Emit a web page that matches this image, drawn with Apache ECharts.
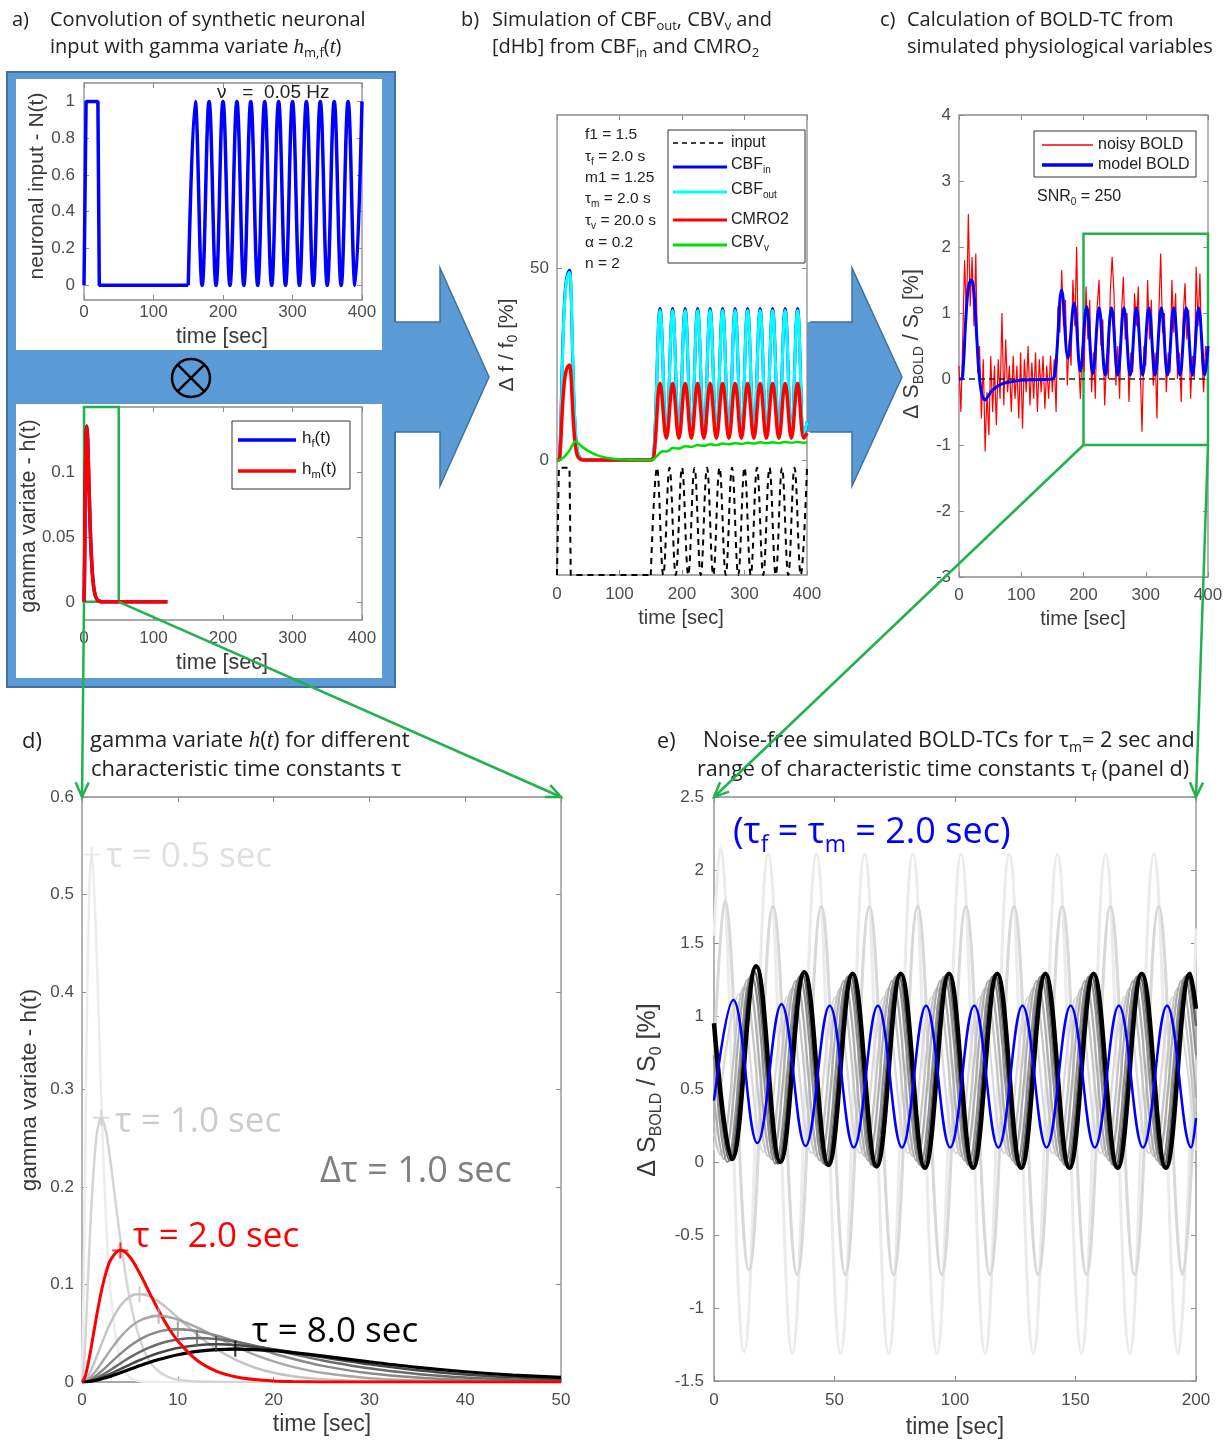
<!DOCTYPE html>
<html lang="en">
<head>
<meta charset="UTF-8">
<title>BOLD simulation figure</title>
<script src="https://cdn.jsdelivr.net/npm/echarts@6.0.0/dist/echarts.min.js"></script>
<style>
  html, body { margin: 0; padding: 0; background: #fff; }
  #main { width: 1231px; height: 1442px; }
</style>
</head>
<body>
<div id="main"></div>
<script>
// ---------- data ----------

// panel a (top): neuronal input N(t)
var nBoxT = [0, 2, 3, 20, 22, 150];
var nBoxV = [0, 0, 1, 1, 0, 0];
var nOscT = [150, 160, 170, 180, 190, 200, 210, 220, 230, 240, 250, 260, 270, 280, 290, 300, 310, 320, 330, 340, 350, 360, 370, 380, 390, 400];
var nOscV = [0, 1, 0, 1, 0, 1, 0, 1, 0, 1, 0, 1, 0, 1, 0, 1, 0, 1, 0, 1, 0, 1, 0, 1, 0, 1];

// panel a (bottom) + panel d: gamma variates h(t) for tau = 0.5 .. 8 s
var gammaT = [0, 0.25, 0.5, 0.75, 1, 1.5, 2, 2.5, 3, 4, 5, 6, 7, 8, 9, 10, 12, 14, 16, 18, 20, 22, 25, 30, 35, 40, 45, 50];
var gTau05 = [0, 0.152, 0.368, 0.502, 0.541, 0.448, 0.293, 0.168, 0.089, 0.021, 0.0045, 0.0009, 0.0002, 0, 0, 0, 0, 0, 0, 0, 0, 0, 0, 0, 0, 0, 0, 0];
var gTau1 = [0, 0.024, 0.076, 0.133, 0.184, 0.251, 0.271, 0.257, 0.224, 0.147, 0.084, 0.045, 0.022, 0.011, 0.005, 0.0023, 0.0004, 0.0001, 0, 0, 0, 0, 0, 0, 0, 0, 0, 0];
var gTau2 = [0, 0.0034, 0.0122, 0.0242, 0.0379, 0.0664, 0.092, 0.1119, 0.1255, 0.1353, 0.1282, 0.112, 0.0925, 0.0733, 0.0562, 0.0421, 0.0223, 0.0112, 0.0054, 0.0025, 0.0011, 0.0005, 0.0001, 0, 0, 0, 0, 0];
var gTau3 = [0, 0.0011, 0.0039, 0.0081, 0.0133, 0.0253, 0.038, 0.0503, 0.0613, 0.0781, 0.0875, 0.0902, 0.088, 0.0824, 0.0747, 0.0661, 0.0488, 0.0341, 0.0229, 0.0149, 0.0094, 0.0059, 0.0028, 0.0008, 0.0002, 0, 0, 0];
var gTau4 = [0, 0.0005, 0.0017, 0.0036, 0.0061, 0.0121, 0.019, 0.0261, 0.0332, 0.046, 0.056, 0.0628, 0.0665, 0.0677, 0.0667, 0.0641, 0.056, 0.0463, 0.0366, 0.0281, 0.0211, 0.0155, 0.0094, 0.0039, 0.0015, 0.0006, 0.0002, 0.0001];
var gTau5 = [0, 0.0003, 0.0009, 0.0019, 0.0033, 0.0067, 0.0107, 0.0152, 0.0198, 0.0288, 0.0368, 0.0434, 0.0483, 0.0517, 0.0536, 0.0541, 0.0522, 0.0477, 0.0418, 0.0354, 0.0293, 0.0238, 0.0168, 0.0089, 0.0045, 0.0021, 0.001, 0.0005];
var gTau6 = [0, 0.0001, 0.0005, 0.0011, 0.002, 0.0041, 0.0066, 0.0095, 0.0126, 0.019, 0.0252, 0.0307, 0.0353, 0.039, 0.0418, 0.0437, 0.0451, 0.044, 0.0412, 0.0373, 0.033, 0.0286, 0.0224, 0.014, 0.0083, 0.0047, 0.0026, 0.0014];
var gTau7 = [0, 0.0001, 0.0003, 0.0007, 0.0013, 0.0026, 0.0044, 0.0064, 0.0085, 0.0132, 0.0178, 0.0223, 0.0263, 0.0298, 0.0326, 0.0349, 0.0378, 0.0387, 0.038, 0.0361, 0.0335, 0.0305, 0.0256, 0.0181, 0.012, 0.0077, 0.0048, 0.0029];
var gTau8 = [0, 0.0001, 0.0002, 0.0005, 0.0009, 0.0018, 0.003, 0.0045, 0.006, 0.0095, 0.0131, 0.0166, 0.02, 0.023, 0.0257, 0.028, 0.0314, 0.0333, 0.0338, 0.0333, 0.0321, 0.0302, 0.0268, 0.0207, 0.015, 0.0105, 0.0071, 0.0047];
var peakT = [1, 2, 4, 6, 8, 10, 12, 14, 16];
var peakH = [0.541, 0.271, 0.135, 0.090, 0.068, 0.054, 0.045, 0.039, 0.034];

// panel b: simulated physiological variables [%]
var inputBoxB = [[0, -30], [2, -30], [3, -2], [20, -2], [22, -30], [150, -30]];
var inputOscV = [-30, -2, -30, -2, -30, -2, -30, -2, -30, -2, -30, -2, -30, -2, -30, -2, -30, -2, -30, -2, -30, -2, -30, -2, -30, -2];
var cbfInB = [[0, 0], [3, 0], [5, 4], [7, 16], [9, 29], [11, 38], [13, 44], [15, 47], [17, 48.5], [20, 49.5], [22, 46], [24, 34], [26, 21], [28, 12], [30, 6], [32, 3], [34, 1.5], [38, 0.3], [42, 0], [150, 0], [155, 2],
  [165, 39.5], [175, 6], [185, 39.5], [195, 6], [205, 39.5], [215, 6], [225, 39.5], [235, 6], [245, 39.5], [255, 6], [265, 39.5], [275, 6], [285, 39.5], [295, 6],
  [305, 39.5], [315, 6], [325, 39.5], [335, 6], [345, 39.5], [355, 6], [365, 39.5], [375, 6], [385, 39.5], [395, 6], [400, 10]];
var cbfOutB = [[0, 0], [3, 0], [5, 3], [7, 14], [9, 27], [11, 37], [13, 43], [15, 46.5], [17, 48], [20, 49], [22, 46.5], [24, 35], [26, 22], [28, 13], [30, 6.5], [32, 3.2], [34, 1.6], [38, 0.3], [42, 0], [150, 0], [155, 1.8],
  [165, 39], [175, 6.2], [185, 39], [195, 6.2], [205, 39], [215, 6.2], [225, 39], [235, 6.2], [245, 39], [255, 6.2], [265, 39], [275, 6.2], [285, 39], [295, 6.2],
  [305, 39], [315, 6.2], [325, 39], [335, 6.2], [345, 39], [355, 6.2], [365, 39], [375, 6.2], [385, 39], [395, 6.2], [400, 10]];
var cmroB = [[0, 0], [3, 0], [5, 2], [7, 8], [9, 14.5], [11, 19], [13, 22], [15, 23.5], [17, 24.3], [20, 24.8], [22, 23], [24, 17], [26, 10.5], [28, 6], [30, 3], [32, 1.5], [34, 0.7], [38, 0.15], [42, 0], [150, 0], [155, 1],
  [165, 20], [175, 5.7], [185, 20], [195, 5.7], [205, 20], [215, 5.7], [225, 20], [235, 5.7], [245, 20], [255, 5.7], [265, 20], [275, 5.7], [285, 20], [295, 5.7],
  [305, 20], [315, 5.7], [325, 20], [335, 5.7], [345, 20], [355, 5.7], [365, 20], [375, 5.7], [385, 20], [395, 5.7], [400, 7]];
var cbvB = [[0, 0], [5, 0.1], [10, 0.6], [15, 1.4], [20, 2.5], [25, 4], [29, 4.8], [33, 4.5], [38, 3.8], [45, 2.9], [55, 1.9], [65, 1.2], [75, 0.75], [90, 0.35], [110, 0.12], [130, 0.03], [150, 0],
  [155, 0.3], [160, 1.1], [165, 1.9], [170, 2.3], [175, 2.2], [180, 2.6], [185, 3.1], [195, 3.0], [205, 3.6], [215, 3.4], [225, 3.9], [235, 3.7], [245, 4.1], [255, 3.9], [265, 4.3], [275, 4.1],
  [285, 4.4], [295, 4.2], [305, 4.5], [315, 4.3], [325, 4.6], [335, 4.4], [345, 4.6], [355, 4.4], [365, 4.7], [375, 4.5], [385, 4.7], [395, 4.5], [400, 4.6]];

// panel c: BOLD time courses [%]
var noisyDt = 3;
var noisyBold = [
  0.2, -0.5, 0.6, 1.8, 0.9, 2.5, 1.1, 1.85, 0.8, 1.9,
  0.1, 0.5, -0.6, 0.3, -1.1, -0.2, -0.85, 0.35, -0.5, 0.2,
  -0.7, 0.3, -0.3, 1.0, -0.4, 0.6, -0.2, 0.2, -0.5, 0.35,
  -0.3, 0.2, -0.6, 0.4, -0.75, 0.3, -0.2, 0.5, -0.4, 0.25,
  -0.3, 0.4, -0.5, 0.3, -0.2, 0.35, -0.45, 0.2, -0.3, 0.35,
  -0.2, 0.3, -0.5, 1.1, 0.7, 1.65, 0.8, 1.2, -0.1, 0.6,
  0.2, 1.5, 0.8, 2.0, 0.3, -0.3, 0.5, 0.1, 1.4, 0.6,
  1.2, -0.2, 0.4, -0.3, 1.1, 1.5, 0.5, 0.9, -0.4, 0.3,
  0.0, 1.3, 1.85, 1.3, -0.1, 0.5, -0.3, 1.0, 1.55, 0.6,
  1.0, -0.35, 0.4, 0.1, 1.3, 0.8, 1.4, 0.2, -0.8, 0.5,
  0.2, 1.5, 0.6, 1.2, -0.1, 0.4, -0.6, 1.0, 1.9, 0.7,
  1.0, -0.2, 0.4, 0.1, 1.5, 0.7, 1.3, 0.0, 0.4, -0.35,
  0.9, 1.45, 0.6, 1.05, -0.3, 0.35, 0.0, 1.7, 0.8, 1.6,
  0.3, -0.2, 0.5, 0.2];
var modelBoldC = [[0, 0], [4, 0], [7, 0.2], [10, 0.75], [13, 1.2], [16, 1.43], [20, 1.5], [23, 1.4], [26, 1.05], [29, 0.55], [32, 0.1], [35, -0.15], [38, -0.27], [42, -0.32], [46, -0.27], [52, -0.19],
  [60, -0.12], [70, -0.07], [85, -0.04], [100, -0.02], [125, -0.01], [150, 0], [155, 0.15], [165, 1.35], [175, 0.32], [185, 1.15], [195, 0.12], [205, 1.1], [215, 0.08], [225, 1.08], [235, 0.06],
  [245, 1.08], [255, 0.06], [265, 1.08], [275, 0.06], [285, 1.08], [295, 0.06], [305, 1.08], [315, 0.06], [325, 1.08], [335, 0.06], [345, 1.08], [355, 0.06], [365, 1.08], [375, 0.06], [385, 1.08], [395, 0.06], [400, 0.5]];
var zeroLineC = [[0, 0], [400, 0]];

// panel e: noise-free BOLD for tau_f = 0.5 .. 8 s (peaks / troughs)
var boldTau05 = [[0, 1.55], [2.5, 2.15], [12.5, -1.3], [22.5, 2.11], [32.5, -1.31], [42.5, 2.11], [52.5, -1.31], [62.5, 2.11], [72.5, -1.31], [82.5, 2.11], [92.5, -1.31], [102.5, 2.11], [112.5, -1.31], [122.5, 2.11], [132.5, -1.31], [142.5, 2.11], [152.5, -1.31], [162.5, 2.11], [172.5, -1.31], [182.5, 2.11], [192.5, -1.31], [200, 1.6]];
var boldTau1 = [[0, 0.7], [4.5, 1.79], [14.5, -0.74], [24.5, 1.75], [34.5, -0.77], [44.5, 1.75], [54.5, -0.77], [64.5, 1.75], [74.5, -0.77], [84.5, 1.75], [94.5, -0.77], [104.5, 1.75], [114.5, -0.77], [124.5, 1.75], [134.5, -0.77], [144.5, 1.75], [154.5, -0.77], [164.5, 1.75], [174.5, -0.77], [184.5, 1.75], [194.5, -0.77], [200, 0.7]];
var boldTau2 = [[0, 0.42], [8, 1.11], [18, 0.13], [28, 1.08], [38, 0.11], [48, 1.07], [58, 0.1], [68, 1.07], [78, 0.1], [88, 1.07], [98, 0.1], [108, 1.07], [118, 0.1], [128, 1.07], [138, 0.1], [148, 1.07], [158, 0.1], [168, 1.07], [178, 0.1], [188, 1.07], [198, 0.1], [200, 0.3]];
var boldTau3 = [[0, 0.08], [10.5, 1.15], [20.5, 0.07], [30.5, 1.13], [40.5, 0.06], [50.5, 1.13], [60.5, 0.06], [70.5, 1.13], [80.5, 0.06], [90.5, 1.13], [100.5, 0.06], [110.5, 1.13], [120.5, 0.06], [130.5, 1.13], [140.5, 0.06], [150.5, 1.13], [160.5, 0.06], [170.5, 1.13], [180.5, 0.06], [190.5, 1.13], [200, 0.08]];
var boldTau4 = [[0, 0.2], [2.5, 0.05], [12.5, 1.2], [22.5, 0.04], [32.5, 1.19], [42.5, 0.04], [52.5, 1.19], [62.5, 0.04], [72.5, 1.19], [82.5, 0.04], [92.5, 1.19], [102.5, 0.04], [112.5, 1.19], [122.5, 0.04], [132.5, 1.19], [142.5, 0.04], [152.5, 1.19], [162.5, 0.04], [172.5, 1.19], [182.5, 0.04], [192.5, 1.19], [200, 0.21]];
var boldTau5 = [[0, 0.44], [4, 0.02], [14, 1.25], [24, 0.02], [34, 1.24], [44, 0.01], [54, 1.24], [64, 0.01], [74, 1.24], [84, 0.01], [94, 1.24], [104, 0.01], [114, 1.24], [124, 0.01], [134, 1.24], [144, 0.01], [154, 1.24], [164, 0.01], [174, 1.24], [184, 0.01], [194, 1.24], [200, 0.44]];
var boldTau6 = [[0, 0.73], [5.5, 0.0], [15.5, 1.28], [25.5, -0.01], [35.5, 1.27], [45.5, -0.01], [55.5, 1.27], [65.5, -0.02], [75.5, 1.27], [85.5, -0.02], [95.5, 1.27], [105.5, -0.02], [115.5, 1.27], [125.5, -0.02], [135.5, 1.27], [145.5, -0.02], [155.5, 1.27], [165.5, -0.02], [175.5, 1.27], [185.5, -0.02], [195.5, 1.27], [200, 0.73]];
var boldTau7 = [[0, 0.93], [6.5, 0.01], [16.5, 1.31], [26.5, -0.01], [36.5, 1.29], [46.5, -0.02], [56.5, 1.28], [66.5, -0.03], [76.5, 1.28], [86.5, -0.03], [96.5, 1.28], [106.5, -0.03], [116.5, 1.28], [126.5, -0.03], [136.5, 1.28], [146.5, -0.03], [156.5, 1.28], [166.5, -0.03], [176.5, 1.28], [186.5, -0.03], [196.5, 1.28], [200, 0.93]];
var boldTau8 = [[0, 0.95], [7.5, 0.02], [17.5, 1.34], [27.5, 0.0], [37.5, 1.3], [47.5, -0.02], [57.5, 1.29], [67.5, -0.03], [77.5, 1.29], [87.5, -0.04], [97.5, 1.29], [107.5, -0.04], [117.5, 1.29], [127.5, -0.04], [137.5, 1.29], [147.5, -0.04], [157.5, 1.29], [167.5, -0.04], [177.5, 1.29], [187.5, -0.04], [197.5, 1.29], [200, 1.05]];

// ---------- styling ----------
var SANS = 'Liberation Sans', CAL = 'Open Sans';
var AXC = '#8c8c8c', LBL = '#4d4d4d', NAMEC = '#3a3a3a';
var GREEN = '#22b14c', BLUE = '#5b9bd5', BLUE_D = '#41719c';
var PLUS = 'path://M7,0H9V7H16V9H9V16H7V9H0V7H7Z';

var chart = echarts.init(document.getElementById('main'));

function zip(t, v) { return t.map(function (x, i) { return [x, v[i]]; }); }

var grids = [
  { left: 84, top: 83, width: 278, height: 217 },   // a top
  { left: 84, top: 407, width: 278, height: 213 },  // a bottom
  { left: 557, top: 115, width: 250, height: 460 }, // b
  { left: 959, top: 115, width: 249, height: 462 }, // c
  { left: 82, top: 797, width: 479, height: 585 },  // d
  { left: 714, top: 797, width: 482, height: 584 }  // e
];

var axSpec = [
  { x: { min: 0, max: 400, interval: 100, fs: 17, margin: 4 }, y: { min: -0.08, max: 1.1, custom: [0, 0.2, 0.4, 0.6, 0.8, 1], fs: 17, margin: 9 } },
  { x: { min: 0, max: 400, interval: 100, fs: 17, margin: 10 }, y: { min: -0.014, max: 0.15, custom: [0, 0.05, 0.1], fs: 17, margin: 9 } },
  { x: { min: 0, max: 400, interval: 100, fs: 17, margin: 11 }, y: { min: -30, max: 90, custom: [0, 50], fs: 17, margin: 8 } },
  { x: { min: 0, max: 400, interval: 100, fs: 17, margin: 10 }, y: { min: -3, max: 4, interval: 1, fs: 17, margin: 8 } },
  { x: { min: 0, max: 50, interval: 10, fs: 17, margin: 10 }, y: { min: 0, max: 0.6, interval: 0.1, fs: 17, margin: 8 } },
  { x: { min: 0, max: 200, interval: 50, fs: 17, margin: 11 }, y: { min: -1.5, max: 2.5, interval: 0.5, fs: 17, margin: 10 } }
];

function mkAxis(dim, g, s, mirror) {
  var a = {
    type: 'value', gridIndex: g, min: s.min, max: s.max,
    position: dim === 'x' ? (mirror ? 'top' : 'bottom') : (mirror ? 'right' : 'left'),
    axisLine: { show: false, onZero: false }, splitLine: { show: false },
    axisTick: { show: true, inside: true, length: 5, lineStyle: { color: AXC, width: 1 } },
    axisLabel: { show: !mirror, color: LBL, fontSize: s.fs, fontFamily: SANS, margin: s.margin }
  };
  if (s.interval) a.interval = s.interval;
  if (s.custom) { a.axisTick.customValues = s.custom; a.axisLabel.customValues = s.custom; }
  return a;
}

var xAxes = [], yAxes = [];
axSpec.forEach(function (s, g) {
  xAxes.push(mkAxis('x', g, s.x, false), mkAxis('x', g, s.x, true));
  yAxes.push(mkAxis('y', g, s.y, false), mkAxis('y', g, s.y, true));
});

function L(g, data, color, width, o) {
  o = o || {};
  var s = {
    type: 'line', xAxisIndex: 2 * g, yAxisIndex: 2 * g, data: data,
    symbol: 'none', showSymbol: false, silent: true,
    smooth: o.smooth || false,
    lineStyle: { color: color, width: width, type: o.dash ? o.dash : 'solid' },
    itemStyle: { color: color }
  };
  if (o.markArea) s.markArea = o.markArea;
  return s;
}
function greenBox(x1, y1, x2, y2) {
  return { silent: true, itemStyle: { color: 'rgba(0,0,0,0)', borderColor: GREEN, borderWidth: 2.5 },
    data: [[{ xAxis: x1, yAxis: y1 }, { xAxis: x2, yAxis: y2 }]] };
}

var hA = zip(gammaT, gTau2).concat([[120, 0]]);
var peakColors = ['#e3e3e3', '#cfcfcf', '#ff0000', '#c4c4c4', '#a8a8a8', '#8a8a8a', '#6b6b6b', '#474747', '#000000'];

var series = [
  // a top
  L(0, zip(nBoxT, nBoxV), '#0000ff', 3.5),
  L(0, zip(nOscT, nOscV), '#0000ff', 3.5, { smooth: 0.4 }),
  // a bottom
  L(1, hA, '#0000ff', 3.5, { smooth: 0.3 }),
  L(1, hA, '#ff0000', 3.5, { smooth: 0.3, markArea: greenBox(0, 0, 50, 0.15) }),
  // b
  L(2, inputBoxB, '#000000', 2, { dash: [6, 5] }),
  L(2, zip(nOscT, inputOscV), '#000000', 2, { dash: [6, 5], smooth: 0.4 }),
  L(2, cbfInB, '#0000ff', 3, { smooth: 0.4 }),
  L(2, cbfOutB, '#00ffff', 3, { smooth: 0.4 }),
  L(2, cmroB, '#ff0000', 3.5, { smooth: 0.4 }),
  L(2, cbvB, '#00dd00', 2.5, { smooth: 0.4 }),
  // c
  L(3, noisyBold.map(function (v, i) { return [i * noisyDt, v]; }), '#ff0000', 1.2),
  L(3, zeroLineC, '#222222', 1.5, { dash: [6, 4] }),
  L(3, modelBoldC, '#0000ff', 3, { smooth: 0.4, markArea: greenBox(200, -1, 400, 2.2) }),
  // d
  L(4, zip(gammaT, gTau05), '#ececec', 2.5, { smooth: 0.3 }),
  L(4, zip(gammaT, gTau1), '#d4d4d4', 2.5, { smooth: 0.3 }),
  L(4, zip(gammaT, gTau3), '#c4c4c4', 2.5, { smooth: 0.3 }),
  L(4, zip(gammaT, gTau4), '#a8a8a8', 2.5, { smooth: 0.3 }),
  L(4, zip(gammaT, gTau5), '#8a8a8a', 2.5, { smooth: 0.3 }),
  L(4, zip(gammaT, gTau6), '#6b6b6b', 2.5, { smooth: 0.3 }),
  L(4, zip(gammaT, gTau7), '#474747', 2.5, { smooth: 0.3 }),
  L(4, zip(gammaT, gTau8), '#000000', 3.2, { smooth: 0.3 }),
  L(4, zip(gammaT, gTau2), '#ff0000', 3, { smooth: 0.3 }),
  {
    type: 'scatter', xAxisIndex: 8, yAxisIndex: 8, symbol: PLUS, symbolSize: 16, silent: true, z: 5,
    data: peakT.map(function (t, i) { return { value: [t, peakH[i]], itemStyle: { color: peakColors[i] } }; })
  },
  // e
  L(5, boldTau05, '#ebebeb', 3, { smooth: 0.4 }),
  L(5, boldTau1, '#d8d8d8', 3, { smooth: 0.4 }),
  L(5, boldTau3, '#dadada', 2.2, { smooth: 0.4 }),
  L(5, boldTau4, '#c6c6c6', 2.2, { smooth: 0.4 }),
  L(5, boldTau5, '#aeaeae', 2.2, { smooth: 0.4 }),
  L(5, boldTau6, '#909090', 2.2, { smooth: 0.4 }),
  L(5, boldTau7, '#666666', 2.5, { smooth: 0.4 }),
  L(5, boldTau8, '#000000', 4.5, { smooth: 0.4 }),
  L(5, boldTau2, '#0000ff', 2.5, { smooth: 0.4 })
];

chart.setOption({
  animation: false,
  backgroundColor: '#ffffff',
  grid: grids.map(function (g) {
    return Object.assign({ show: true, backgroundColor: '#ffffff', borderColor: AXC, borderWidth: 1.3, containLabel: false }, g);
  }),
  xAxis: xAxes,
  yAxis: yAxes,
  series: series
});

// ---------- texts, legends and decoration ----------
function T(x, y, text, fs, o) {
  o = o || {};
  var ff = o.ff || SANS, color = o.color || '#222222', al = o.align || 'left';
  return {
    type: 'text', x: x, y: y, rotation: o.rot || 0, z: o.z || 10, silent: true,
    style: {
      text: text, fill: color, fontSize: fs, fontFamily: ff,
      align: al, verticalAlign: 'middle', textAlign: al, textVerticalAlign: 'middle',
      lineHeight: Math.round(fs * 1.3),
      rich: {
        sub: { fontSize: Math.round(fs * 0.65), fontFamily: ff, fill: color, verticalAlign: 'bottom', lineHeight: Math.round(fs * 0.7) },
        it: { fontSize: Math.round(fs * 1.05), fontFamily: 'Liberation Serif', fontStyle: 'italic', fill: color, lineHeight: Math.round(fs * 1.3) }
      }
    }
  };
}
function seg(x1, y1, x2, y2, color, w, dash) {
  return { type: 'line', z: 11, silent: true, shape: { x1: x1, y1: y1, x2: x2, y2: y2 },
    style: { stroke: color, lineWidth: w, lineDash: dash || null } };
}
function box(x, y, w, h) {
  return { type: 'rect', z: 9, silent: true, shape: { x: x, y: y, width: w, height: h },
    style: { fill: '#ffffff', stroke: '#333333', lineWidth: 1 } };
}
function blockArrow(x0, x1, tip) {
  var pts = [[x0, 322], [x1, 322], [x1, 268], [tip, 377], [x1, 486], [x1, 432], [x0, 432]];
  return [
    { type: 'polygon', z: -1, silent: true, shape: { points: pts }, style: { fill: BLUE } },
    { type: 'polyline', z: -1, silent: true, shape: { points: pts.map(function (p, i) { return i === 0 || i === 6 ? [p[0] + 3, p[1]] : p; }) },
      style: { stroke: BLUE_D, lineWidth: 1.5, fill: null } }
  ];
}
function connector(a, b) {
  var ang = Math.atan2(b[1] - a[1], b[0] - a[0]), len = 16, spread = 0.42;
  return [
    { type: 'line', z: 20, silent: true, shape: { x1: a[0], y1: a[1], x2: b[0], y2: b[1] }, style: { stroke: GREEN, lineWidth: 2.5 } },
    { type: 'polyline', z: 20, silent: true, shape: { points: [
      [b[0] - len * Math.cos(ang - spread), b[1] - len * Math.sin(ang - spread)], b,
      [b[0] - len * Math.cos(ang + spread), b[1] - len * Math.sin(ang + spread)]] },
      style: { stroke: GREEN, lineWidth: 2.5, fill: null } }
  ];
}

function px(ai, pt) { return chart.convertToPixel({ xAxisIndex: ai, yAxisIndex: ai }, pt); }

var G = [];
// panel a frame
G.push({ type: 'rect', z: -2, silent: true, shape: { x: 7, y: 72, width: 388, height: 615 }, style: { fill: BLUE, stroke: BLUE_D, lineWidth: 2 } });
G.push({ type: 'rect', z: -1, silent: true, shape: { x: 16, y: 79, width: 366, height: 271 }, style: { fill: '#ffffff' } });
G.push({ type: 'rect', z: -1, silent: true, shape: { x: 16, y: 404, width: 366, height: 274 }, style: { fill: '#ffffff' } });
G = G.concat(blockArrow(392, 440, 489), blockArrow(807, 852, 902));
// convolution sign
G.push({ type: 'circle', z: 1, silent: true, shape: { cx: 191, cy: 378, r: 19 }, style: { fill: null, stroke: '#000', lineWidth: 2.5 } });
G.push(seg(177.6, 364.6, 204.4, 391.4, '#000', 2.5), seg(177.6, 391.4, 204.4, 364.6, '#000', 2.5));

// panel titles
var TF = 20, TD = 22, TE = 21.6;
G.push(T(12, 20, 'a)', TF, { ff: CAL }), T(50, 20, 'Convolution of synthetic neuronal', TF, { ff: CAL }),
  T(50, 47, 'input with gamma variate {it|h}{sub|m,f}({it|t})', TF, { ff: CAL }));
G.push(T(461, 20, 'b)', TF, { ff: CAL }), T(492, 20, 'Simulation of CBF{sub|out}, CBV{sub|v} and', TF, { ff: CAL }),
  T(492, 47, '[dHb] from CBF{sub|in} and CMRO{sub|2}', TF, { ff: CAL }));
G.push(T(880, 20, 'c)', TF, { ff: CAL }), T(907, 20, 'Calculation of BOLD-TC from', TF, { ff: CAL }),
  T(907, 47, 'simulated physiological variables', TF, { ff: CAL }));
G.push(T(22, 742, 'd)', TD, { ff: CAL }), T(90, 741, 'gamma variate {it|h}({it|t}) for different', TD, { ff: CAL }),
  T(91, 770, 'characteristic time constants τ', TD, { ff: CAL }));
G.push(T(657, 742, 'e)', TE, { ff: CAL }), T(703, 741, 'Noise-free simulated BOLD-TCs for τ{sub|m}= 2 sec and', TE, { ff: CAL }),
  T(697, 770, 'range of characteristic time constants τ{sub|f} (panel d)', TE, { ff: CAL }));

// axis names
var R = Math.PI / 2;
G.push(T(37, 186, 'neuronal input - N(t)', 21, { rot: R, align: 'center', color: NAMEC }));
G.push(T(222, 337, 'time [sec]', 21.5, { align: 'center', color: NAMEC }));
G.push(T(29, 516, 'gamma variate - h(t)', 21.5, { rot: R, align: 'center', color: NAMEC }));
G.push(T(222, 663, 'time [sec]', 21.5, { align: 'center', color: NAMEC }));
G.push(T(507, 345, 'Δ f / f{sub|0} [%]', 21, { rot: R, align: 'center', color: NAMEC }));
G.push(T(681, 618, 'time [sec]', 20, { align: 'center', color: NAMEC }));
G.push(T(912, 344, 'Δ S{sub|BOLD} / S{sub|0} [%]', 21.5, { rot: R, align: 'center', color: NAMEC }));
G.push(T(1083, 619, 'time [sec]', 20, { align: 'center', color: NAMEC }));
G.push(T(30, 1090, 'gamma variate - h(t)', 22.5, { rot: R, align: 'center', color: NAMEC }));
G.push(T(322, 1425, 'time [sec]', 23, { align: 'center', color: NAMEC }));
G.push(T(648, 1090, 'Δ S{sub|BOLD} / S{sub|0} [%]', 25, { rot: R, align: 'center', color: NAMEC }));
G.push(T(955, 1428, 'time [sec]', 23, { align: 'center', color: NAMEC }));

// annotations
G.push(T(217, 93, 'ν   =  0.05 Hz', 19));
var pb = [['f1 = 1.5', 135], ['τ{sub|f} = 2.0 s', 157], ['m1 = 1.25', 178], ['τ{sub|m} = 2.0 s', 199], ['τ{sub|v} = 20.0 s', 221], ['α = 0.2', 243], ['n = 2', 264]];
pb.forEach(function (r) { G.push(T(585, r[1], r[0], 15.5)); });
G.push(T(1037, 197, 'SNR{sub|0} = 250', 16));
G.push(T(106, 857, 'τ = 0.5 sec', 35, { ff: CAL, color: '#e0e0e0' }));
G.push(T(115, 1122, 'τ = 1.0 sec', 35, { ff: CAL, color: '#cccccc' }));
G.push(T(320, 1172, 'Δτ = 1.0 sec', 36, { ff: CAL, color: '#7f7f7f' }));
G.push(T(133, 1237, 'τ = 2.0 sec', 35, { ff: CAL, color: '#ff0000' }));
G.push(T(252, 1332, 'τ = 8.0 sec', 35, { ff: CAL, color: '#000000' }));
G.push(T(733, 833, '(τ{sub|f} = τ{sub|m} = 2.0 sec)', 36, { ff: CAL, color: '#0000ff' }));

// legends
G.push(box(232, 421, 118, 68), seg(238, 440, 296, 440, '#0000ff', 3.5), seg(238, 471, 296, 471, '#ff0000', 3.5),
  T(302, 438, 'h{sub|f}(t)', 17), T(302, 469, 'h{sub|m}(t)', 17));
G.push(box(668, 130, 137, 133));
var lb = [['input', 143, '#000000', 1.5, [5, 4]], ['CBF{sub|in}', 167, '#0000ff', 3], ['CBF{sub|out}', 192, '#00ffff', 3], ['CMRO2', 220, '#ff0000', 3], ['CBV{sub|v}', 245, '#00dd00', 3]];
lb.forEach(function (r) {
  G.push(seg(673, r[1], 727, r[1], r[2], r[3], r[4]));
  G.push(T(731, r[0].indexOf('{') > 0 ? r[1] - 2 : r[1], r[0], 16));
});
G.push(box(1034, 131, 162, 46), seg(1042, 145, 1093, 145, '#ff0000', 1.5), seg(1042, 165, 1093, 165, '#0000ff', 3.5),
  T(1098, 145, 'noisy BOLD', 16), T(1098, 165, 'model BOLD', 16));

// green zoom connectors
G = G.concat(
  connector(px(2, [0, 0]), px(8, [0, 0.6])),
  connector(px(2, [50, 0]), px(8, [50, 0.6])),
  connector(px(6, [200, -1]), px(10, [0, 2.5])),
  connector(px(6, [400, -1]), px(10, [200, 2.5]))
);

chart.setOption({ graphic: { elements: G } });
</script>
</body>
</html>
